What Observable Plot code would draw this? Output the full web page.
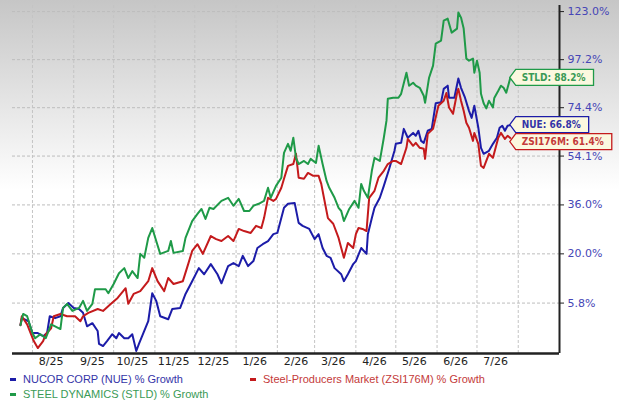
<!DOCTYPE html>
<html>
<head>
<meta charset="utf-8">
<script src="https://cdn.jsdelivr.net/npm/d3@7"></script>
<script src="https://cdn.jsdelivr.net/npm/@observablehq/plot@0.6"></script>
<style>
  html, body { margin: 0; padding: 0; background: #fff; }
  #wrap { position: relative; width: 619px; height: 411px; overflow: hidden;
    background: linear-gradient(to bottom, #c6c6c6 0px, #ffffff 190px) no-repeat, #fff; }
  .leg { position: absolute; font: 11px "Liberation Sans", Arial, sans-serif; line-height: 15px; white-space: nowrap; }
  .leg .dash { position: absolute; left: 0; top: 6px; width: 6px; height: 3px; }
  .leg .txt { position: absolute; left: 13px; top: 0; }
</style>
</head>
<body>
<div id="wrap">
  <div id="chart"></div>
  <div id="legend"></div>
</div>
<script>
// ---- data (day offset from 2025-08-01, % growth) ----
const nue = [[-9,0],[-8,1.8],[-3,1.0],[0,-2.0],[4,-2.0],[8,-2.8],[11,-2.0],[13,2.3],[17,1.8],[21,2.3],[23,4.5],[27,5.8],[31,4.5],[35,4.2],[38,3.2],[41,-0.3],[45,0.5],[49,-1.5],[50,-4.7],[53,-5.2],[56,-4.0],[60,-2.3],[63,-3.3],[65,-2.0],[69,-3.3],[72,-3.3],[75,-2.3],[78,-6.4],[80,-4.7],[83,-2.3],[87,1.0],[90,8.5],[93,6.4],[96,2.3],[102,1.5],[105,4.2],[111,4.5],[115,8.3],[120,11.9],[125,15.7],[129,13.9],[134,16.9],[139,13.9],[142,11.3],[147,16.3],[151,17.2],[155,16.3],[158,19.4],[162,16.3],[166,17.8],[169,21.8],[173,23.0],[177,24.0],[181,26.2],[184,26.6],[189,35.0],[192,36.4],[197,36.7],[200,29.9],[203,28.9],[208,27.9],[212,24.6],[215,26.2],[218,21.8],[221,19.4],[224,18.8],[227,15.7],[232,13.9],[234,11.9],[237,13.9],[241,16.9],[243,17.8],[247,21.8],[251,20.0],[252,26.2],[255,31.5],[257,35.0],[261,38.5],[264,42.8],[268,49.1],[272,56.2],[273,59.0],[277,59.4],[279,65.2],[282,61.5],[286,63.5],[288,62.3],[290,64.4],[292,60.2],[294,59.4],[297,64.4],[300,65.2],[303,76.4],[307,76.8],[309,83.0],[312,84.5],[313,78.9],[317,78.9],[320,87.9],[322,83.5],[325,78.9],[328,73.0],[330,69.9],[332,75.3],[335,65.7],[337,57.4],[339,55.0],[343,56.2],[346,59.0],[349,61.5],[351,65.7],[353,66.5],[355,64.4],[357,66.5],[359,66.8]];

const zsi = [[-9,0],[-8,2.3],[-4,0.2],[1,-4.0],[4,-5.7],[8,-4.0],[10,-2.3],[14,-0.8],[16,2.3],[21,2.9],[26,2.3],[32,2.3],[36,1.0],[38,2.3],[42,3.2],[49,4.2],[53,3.7],[59,5.6],[64,7.2],[70,9.9],[72,5.6],[76,8.3],[81,9.1],[87,11.9],[90,15.7],[94,11.9],[99,9.1],[102,12.8],[106,11.1],[113,11.9],[117,16.9],[120,20.9],[124,23.0],[128,20.0],[134,25.6],[138,24.6],[142,24.0],[147,25.6],[151,24.0],[155,27.9],[159,27.2],[164,26.6],[168,28.9],[172,28.2],[174,31.5],[177,38.5],[181,37.4],[183,38.1],[187,42.1],[189,45.4],[192,50.3],[196,51.0],[198,55.0],[200,45.8],[204,45.4],[207,47.6],[211,46.5],[215,46.5],[217,43.5],[219,38.5],[222,31.5],[226,29.6],[230,25.0],[232,21.8],[234,18.8],[237,23.4],[241,21.8],[243,26.2],[245,28.2],[248,27.9],[251,27.2],[253,38.5],[257,41.0],[260,45.8],[264,48.4],[267,51.0],[271,52.2],[273,52.2],[277,51.0],[281,57.4],[282,61.0],[286,58.2],[288,59.4],[291,57.4],[294,57.0],[295,53.0],[297,63.1],[301,65.2],[305,75.3],[309,77.5],[311,81.1],[313,74.5],[316,71.7],[319,81.1],[320,83.0],[322,77.5],[324,73.0],[326,67.8],[328,65.7],[331,60.2],[332,63.5],[335,59.0],[337,50.3],[339,49.5],[343,55.0],[346,53.4],[350,61.5],[352,63.5],[355,61.0],[357,62.3],[359,61.4]];

const stld = [[-9,0],[-7,2.9],[-4,2.3],[0,-2.0],[2,-3.3],[6,-2.3],[10,-3.3],[14,0.2],[17,-0.3],[21,-1.0],[23,4.5],[26,5.6],[30,3.7],[35,4.5],[38,6.4],[41,3.7],[45,5.6],[47,9.6],[51,9.6],[55,9.6],[57,8.5],[61,11.1],[65,14.2],[69,15.7],[72,12.8],[75,14.8],[79,12.8],[81,20.0],[84,18.8],[87,25.0],[90,28.2],[93,24.0],[96,20.0],[102,20.9],[104,24.0],[106,20.3],[113,20.9],[115,25.0],[120,30.5],[124,32.9],[127,34.6],[130,31.2],[133,35.0],[136,34.6],[142,37.4],[147,38.5],[151,35.7],[155,38.1],[159,33.9],[163,33.9],[166,35.7],[170,36.4],[174,37.4],[177,42.1],[179,38.5],[183,42.8],[187,45.8],[189,55.4],[192,59.0],[194,56.2],[196,61.5],[198,53.4],[200,51.0],[204,52.2],[207,51.0],[209,53.0],[213,51.4],[215,58.2],[218,51.0],[221,44.6],[223,42.1],[227,38.5],[230,35.0],[232,33.9],[234,30.5],[238,34.6],[242,37.4],[245,35.0],[247,43.5],[249,41.0],[252,38.5],[255,48.4],[257,53.4],[261,52.2],[264,61.5],[266,68.7],[267,78.4],[271,78.9],[275,78.9],[277,80.7],[281,90.7],[283,84.5],[286,85.9],[288,84.5],[291,83.5],[294,79.8],[295,76.6],[298,88.3],[301,94.2],[303,105.4],[307,107.0],[309,117.9],[312,119.0],[315,111.3],[319,113.5],[320,122.5],[322,119.6],[324,113.5],[326,97.7],[328,96.7],[331,97.7],[332,90.7],[334,96.7],[336,90.7],[337,80.7],[339,76.4],[341,74.1],[343,77.5],[346,74.5],[347,78.8],[350,82.1],[352,84.5],[354,83.5],[356,81.2],[359,88.2]];

const seriesTickers = ["NUE", "ZSI176M", "STLD"];
const seriesNames = ["NUCOR CORP (NUE) % Growth", "Steel-Producers Market (ZSI176M) % Growth", "STEEL DYNAMICS (STLD) % Growth"];
const yTicks = [5.8, 20.0, 36.0, 54.1, 74.4, 97.2, 123.0];
const xTickLabels = ["8/25","9/25","10/25","11/25","12/25","1/26","2/26","3/26","4/26","5/26","6/26","7/26"];

// ---- styling ----
const lineColors = ["#1c1ca8", "#c41a1c", "#1f9a48"];
const textColors = ["#3434a8", "#c43a3a", "#3a9a56"];
const boxFill = "#fbf8df";

const base = Date.UTC(2025, 7, 1);
const toDate = d => new Date(base + d * 864e5);
const rows = s => s.map(([d, p]) => ({date: toDate(d), v: 1 + p / 100, p}));
const seriesData = [nue, zsi, stld];

const xTickDates = xTickLabels.map(l => { const [m, y] = l.split("/").map(Number); return new Date(Date.UTC(2000 + y, m - 1, 15)); });
const monthStarts = d3.utcMonth.range(new Date(Date.UTC(2025, 7, 1)), new Date(Date.UTC(2026, 7, 2)));
const xDomain = [new Date(Date.UTC(2025, 6, 17)), new Date(Date.UTC(2026, 8, 1))];
const yDomain = [0.930, 2.265];
const yTickVals = yTicks.map(t => 1 + t / 100);

const canvas = document.createElement("canvas");
const ctx2 = canvas.getContext("2d");
const calloutFont = "bold 10px 'DejaVu Sans Condensed', 'DejaVu Sans'";

function callouts(index, scales, values, dimensions, context) {
  const ns = "http://www.w3.org/2000/svg";
  const doc = (context && context.document) || document;
  const g = doc.createElementNS(ns, "g");
  const items = seriesData.map((s, i) => {
    const last = s[s.length - 1];
    return {i, label: `${seriesTickers[i]}: ${last[1].toFixed(1)}%`,
      x: scales.x(toDate(last[0])), y: scales.y(1 + last[1] / 100)};
  }).sort((a, b) => a.y - b.y);
  const h = 16;
  let prev = -Infinity;
  ctx2.font = calloutFont;
  for (const it of items) {
    const cy = Math.max(it.y, prev + h + 1);
    prev = cy;
    const w = ctx2.measureText(it.label).width;
    const x0 = it.x, x1 = x0 + 12 + w + 8;
    const path = doc.createElementNS(ns, "path");
    path.setAttribute("d", `M${x0},${cy}L${x0 + 6},${cy - h / 2}L${x1},${cy - h / 2}L${x1},${cy + h / 2}L${x0 + 6},${cy + h / 2}Z`);
    path.setAttribute("fill", boxFill);
    path.setAttribute("stroke", lineColors[it.i]);
    path.setAttribute("stroke-width", 1.3);
    g.appendChild(path);
    const t = doc.createElementNS(ns, "text");
    t.setAttribute("x", x0 + 12);
    t.setAttribute("y", cy);
    t.setAttribute("dy", "0.35em");
    t.setAttribute("text-anchor", "start");
    t.setAttribute("fill", textColors[it.i]);
    t.setAttribute("style", `font: ${calloutFont};`);
    t.textContent = it.label;
    g.appendChild(t);
  }
  return g;
}

const chart = Plot.plot({
  width: 619,
  height: 370,
  marginTop: 5,
  marginBottom: 17,
  marginLeft: 12,
  marginRight: 60,
  style: {background: "transparent", fontFamily: "'DejaVu Sans', Verdana, sans-serif", fontSize: "11px", overflow: "visible"},
  x: {type: "utc", domain: xDomain, label: null},
  y: {type: "log", domain: yDomain, label: null},
  marks: [
    Plot.gridY(yTickVals, {stroke: "#bdbdbd", strokeOpacity: 1, strokeDasharray: "3,2"}),
    Plot.gridX(monthStarts, {stroke: "#c4c4c4", strokeOpacity: 1, strokeDasharray: "3,2"}),
    ...seriesData.map((s, i) => Plot.line(rows(s), {x: "date", y: "v", stroke: lineColors[i], strokeWidth: 2, strokeLinejoin: "round"})),
    Plot.ruleY([yDomain[0]], {stroke: "#222", strokeWidth: 2.5}),
    Plot.ruleX([xDomain[1]], {stroke: "#222", strokeWidth: 2}),
    Plot.axisY(yTickVals, {anchor: "right", label: null, tickSize: 4, tickPadding: 4, stroke: "#222",
      fill: "#4646b6", tickFormat: d => ((d - 1) * 100).toFixed(1) + "%"}),
    Plot.axisX(xTickDates, {anchor: "bottom", label: null, tickSize: 0, tickPadding: 4, fill: "#222",
      tickFormat: d3.utcFormat("%-m/%y")}),
    callouts
  ]
});
document.getElementById("chart").appendChild(chart);

// legend (HTML below the SVG)
const legend = document.getElementById("legend");
const legPos = [[10, 372], [250, 372], [10, 387]];
seriesNames.forEach((name, i) => {
  const d = document.createElement("div");
  d.className = "leg";
  d.style.left = legPos[i][0] + "px";
  d.style.top = legPos[i][1] + "px";
  d.innerHTML = `<span class="dash" style="background:${lineColors[i]}"></span><span class="txt" style="color:${textColors[i]}">${name}</span>`;
  legend.appendChild(d);
});
</script>
</body>
</html>
